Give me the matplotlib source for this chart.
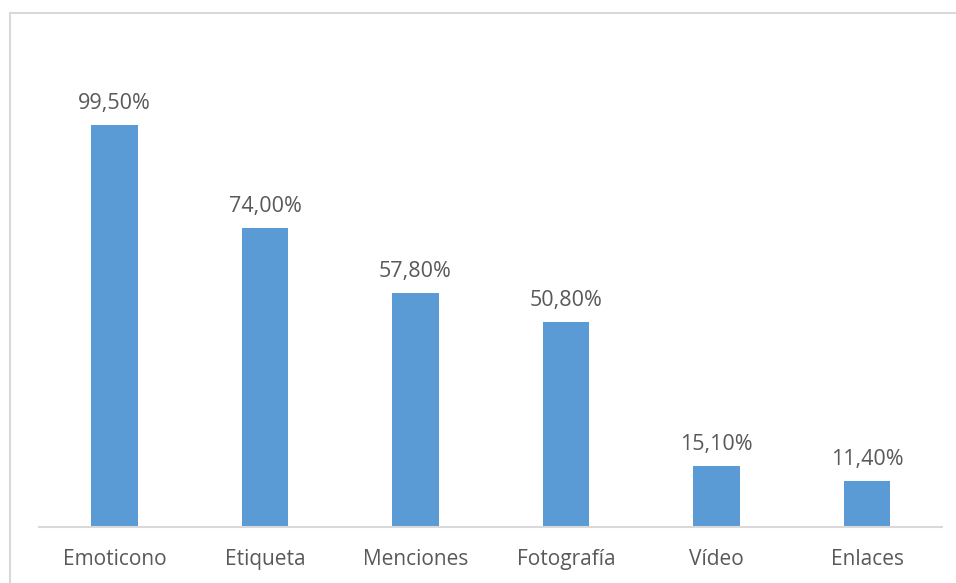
import matplotlib.pyplot as plt
from matplotlib.patches import Rectangle

categories = ["Emoticono", "Etiqueta", "Menciones", "Fotografía", "Vídeo", "Enlaces"]
values = [99.5, 74.0, 57.8, 50.8, 15.1, 11.4]
labels = ["99,50%", "74,00%", "57,80%", "50,80%", "15,10%", "11,40%"]

plt.rcParams["font.family"] = ["Open Sans", "DejaVu Sans"]
text_color = "#595959"

fig = plt.figure(figsize=(9.56, 5.83), dpi=100)
ax = fig.add_axes([0.0411, 0.0961, 0.9446, 0.8319])

x = range(len(categories))
bars = ax.bar(x, values, width=0.31, color="#5B9BD5")
for b, lab in zip(bars, labels):
    ax.annotate(lab, (b.get_x() + b.get_width() / 2, b.get_height()),
                xytext=(0, 8), textcoords="offset points",
                ha="center", va="bottom", fontsize=15.5, color=text_color)

ax.set_xlim(-0.5, 5.5)
ax.set_ylim(0, 120)
ax.set_xticks(list(x))
ax.set_xticklabels(categories, fontsize=15, color=text_color)
ax.tick_params(axis="x", length=0, pad=16)
ax.set_yticks([])
for side in ["top", "right", "left"]:
    ax.spines[side].set_visible(False)
ax.spines["bottom"].set_color("#d9d9d9")
ax.spines["bottom"].set_linewidth(1.5)

# chart border
fig.patches.append(Rectangle((10 / 956, -0.05), 1.0, 1.05 - 13 / 583,
                             transform=fig.transFigure, fill=False,
                             edgecolor="#d9d9d9", linewidth=1.5))

fig.savefig("out.png", dpi=100)
